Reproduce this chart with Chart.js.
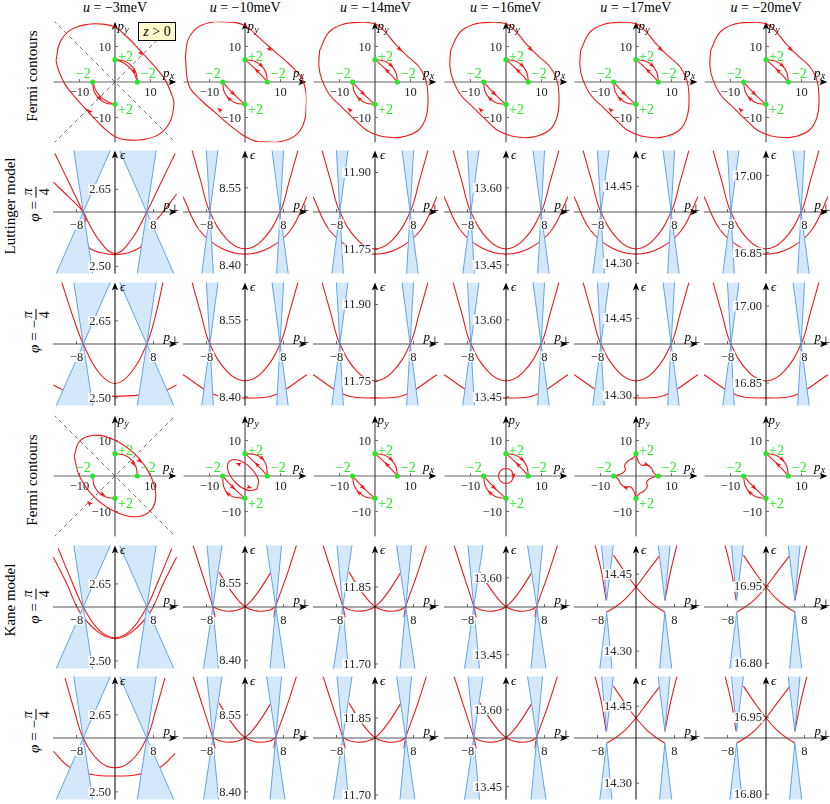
<!DOCTYPE html>
<html><head><meta charset="utf-8">
<script src="https://cdn.jsdelivr.net/npm/chart.js"></script>
<style>
html,body{margin:0;padding:0;background:#fff}
#fig{position:relative;width:830px;height:804px;overflow:hidden;font-family:"Liberation Serif","DejaVu Serif",serif;color:#000}
#fig canvas{position:absolute}
.hdr{position:absolute;top:0px;font-size:14px;line-height:16px;white-space:nowrap;transform:translateX(-50%)}
.rot{position:absolute;white-space:nowrap;font-size:15px;line-height:17px;transform:translate(-50%,-50%) rotate(-90deg)}
.zbox{position:absolute;left:138px;top:22px;width:38px;height:19px;background:#ffffcc;border:1px solid #000;box-sizing:border-box;font-size:14px;text-align:center;line-height:17px}
.frac{display:inline-flex;flex-direction:column;vertical-align:middle;text-align:center;font-size:14px;line-height:14px}
.frac span:first-child{border-bottom:1px solid #000;padding:0 2px 1px 2px}
.frac span:last-child{padding-top:1px}
</style></head><body><div id="fig">
<div class="rot" style="left:32px;top:76px">Fermi contours</div>
<div class="rot" style="left:10px;top:206px">Luttinger model</div>
<div class="rot" style="left:36px;top:204px"><i>φ</i> = <span class="frac"><span><i>π</i></span><span>4</span></span></div>
<div class="rot" style="left:36px;top:331px"><i>φ</i> = −<span class="frac"><span><i>π</i></span><span>4</span></span></div>
<div class="rot" style="left:32px;top:480px">Fermi contours</div>
<div class="rot" style="left:10px;top:600px">Kane model</div>
<div class="rot" style="left:36px;top:606px"><i>φ</i> = <span class="frac"><span><i>π</i></span><span>4</span></span></div>
<div class="rot" style="left:36px;top:731px"><i>φ</i> = −<span class="frac"><span><i>π</i></span><span>4</span></span></div>
</div>
<script>
// ================= DATA =================
const uValues = [-3, -10, -14, -16, -17, -20];
const weylNodes = [[0, 6.3, '+2'], [6.3, 0, '−2'], [0, -6.3, '+2'], [-6.3, 0, '−2']];
const fermiTicks = [-10, 10];
const dispTicksP = [-8, 8];
const lutTicksE  = [[2.65,2.50],[8.55,8.40],[11.90,11.75],[13.60,13.45],[14.45,14.30],[17.00,16.85]];
const kaneTicksE = [[2.65,2.50],[8.55,8.40],[11.85,11.70],[13.60,13.45],[14.45,14.30],[16.95,16.80]];
const lutPlusAxisE   = [2.606, 8.503, 11.823, 13.553, 14.400, 16.929];
const lutMinusAxisE  = [2.605, 8.503, 11.823, 13.553, 14.400, 16.926];
const kanePlusAxisE  = [2.605, 8.504, 11.811, 13.543, 14.386, 16.910];
const kaneMinusAxisE = [2.605, 8.505, 11.811, 13.545, 14.388, 16.910];

// Fermi-contour pieces (p_x, p_y)
const lensTR   = [[0,6.3],[2.6,5.9],[4.6,4.6],[5.9,2.6],[6.3,0]];
const lensTRin = [[0,6.3],[1.7,4.8],[3.3,3.3],[4.8,1.7],[6.3,0]];
const lensBL   = [[-6.3,0],[-5.9,-2.6],[-4.6,-4.6],[-2.6,-5.9],[0,-6.3]];
const lensBLin = [[-6.3,0],[-4.8,-1.7],[-3.3,-3.3],[-1.7,-4.8],[0,-6.3]];
const outerU3  = [[-16.6,6.0],[-15.6,11.0],[-12.6,14.6],[-8.0,16.2],[-3.5,16.3],[0,15.4],[3.5,12.6],[7.3,8.6],[10.8,4.8],[14.0,0.8],[16.0,-3.6],[16.6,-6.0],[15.6,-11.0],[12.6,-14.6],[8.0,-16.2],[3.5,-16.3],[0,-15.4],[-3.5,-12.6],[-7.3,-8.6],[-10.8,-4.8],[-14.0,-0.8],[-16.0,3.6],[-16.6,6.0]];
const outerU10 = [[-16.8,7.0],[-16.0,12.0],[-13.0,15.6],[-8.0,17.0],[-3.0,16.8],[0.5,15.6],[4.5,12.0],[8.5,8.5],[12.5,5.0],[16.0,1.0],[17.3,-4.0],[17.0,-10.0],[14.5,-14.8],[9.0,-17.0],[3.5,-16.8],[-0.5,-15.0],[-4.5,-12.0],[-8.5,-8.5],[-12.5,-5.0],[-15.8,-1.0],[-16.8,7.0]];
const outerU20 = [[-15.6,8.9],[-13.0,14.0],[-9.2,16.2],[-4.5,16.8],[0,16.4],[3.0,14.0],[5.6,10.8],[8.9,7.5],[12.2,4.5],[14.2,1.0],[14.9,-3.3],[14.5,-9.4],[12.2,-13.6],[7.0,-15.6],[1.5,-15.2],[-2.5,-13.5],[-5.5,-10.8],[-9.2,-7.2],[-12.8,-3.6],[-15.0,0.8],[-15.8,4.5],[-15.6,8.9]];
const lutFermi = [
  [outerU3, lensTR, [[0,6.3],[2.2,5.5],[4.1,4.1],[5.5,2.2],[6.3,0]], lensBL, [[-6.3,0],[-5.5,-2.2],[-4.1,-4.1],[-2.2,-5.5],[0,-6.3]]],
  [outerU10, lensTR, lensTRin, lensBL, lensBLin],
  [outerU20, lensTR, lensTRin, lensBL, lensBLin],
  [outerU20, lensTR, lensTRin, lensBL, lensBLin],
  [outerU20, lensTR, lensTRin, lensBL, lensBLin],
  [outerU20, lensTR, lensTRin, lensBL, lensBLin]
];
// arrow marks on the contours: [p_x, p_y, direction x, direction y]
const lutArrowsU3  = [[7.4,8.0,1,-1.1],[-7.3,-8.2,-1,1.1],[5.4,3.0,0.5,-1],[-4.3,-4.6,1,-0.9]];
const lutArrowsOut = [[7.0,9.2,1,-1],[-7.2,-7.8,-1,1],[4.6,4.6,1,-1],[3.3,3.3,-1,1],[-4.6,-4.6,-1,1],[-3.3,-3.3,1,-1]];
const lutArrows = [lutArrowsU3, lutArrowsOut, lutArrowsOut, lutArrowsOut, lutArrowsOut, lutArrowsOut];
const kaneFermi = [
  [[[-11.5,5.6],[-9.9,9.9],[-5.6,11.5],[0.1,10.0],[5.9,5.9],[10.0,0.1],[11.5,-5.6],[9.9,-9.9],[5.6,-11.5],[-0.1,-10.0],[-5.9,-5.9],[-10.0,-0.1],[-11.5,5.6]], lensTR, lensBL],
  [[[3.4,-3.7],[3.75,-1.05],[1.6,2.3],[-1.75,4.45],[-4.4,4.1],[-4.75,1.45],[-2.6,-1.9],[0.75,-4.05],[3.4,-3.7]],
   [[0,6.3],[3.0,6.0],[4.9,4.9],[6.0,3.0],[6.3,0]], lensTRin, [[-6.3,0],[-6.0,-3.0],[-4.9,-4.9],[-3.0,-6.0],[0,-6.3]], lensBLin],
  [lensTR, lensTRin, lensBL, lensBLin],
  [[[2.1,0],[1.5,1.5],[0,2.1],[-1.5,1.5],[-2.1,0],[-1.5,-1.5],[0,-2.1],[1.5,-1.5],[2.1,0]], lensTR, lensTRin, lensBL, lensBLin],
  [[[0,6.3],[0.7,4.0],[1.7,3.0],[3.0,3.2],[4.3,2.2],[5.0,0.9],[6.3,0]],
   [[6.3,0],[4.0,-0.7],[3.0,-1.7],[3.2,-3.0],[2.2,-4.3],[0.9,-5.0],[0,-6.3]],
   [[0,-6.3],[-0.7,-4.0],[-1.7,-3.0],[-3.0,-3.2],[-4.3,-2.2],[-5.0,-0.9],[-6.3,0]],
   [[-6.3,0],[-4.0,0.7],[-3.0,1.7],[-3.2,3.0],[-2.2,4.3],[-0.9,5.0],[0,6.3]]],
  [lensTR, lensTRin, lensBL, lensBLin]
];
const kaneArrows = [
  [[7.0,4.2,1,-1],[-7.3,-7.6,-1,1],[5.2,3.5,0.6,-1],[-3.4,-5.2,1,-0.6]],
  [[4.9,4.9,1,-1],[3.3,3.3,-1,1],[-4.9,-4.9,-1,1],[-3.3,-3.3,1,-1],[-1.9,3.4,-1,0.3],[1.3,-3.2,1,-0.3]],
  [[4.6,4.6,1,-1],[3.3,3.3,-1,1],[-4.6,-4.6,-1,1],[-3.3,-3.3,1,-1]],
  [[4.6,4.6,1,-1],[3.3,3.3,-1,1],[-4.6,-4.6,-1,1],[-3.3,-3.3,1,-1],[2.1,0,0,-1]],
  [[3.0,3.2,1,-0.4],[-3.0,-3.2,-1,0.4]],
  [[4.6,4.6,1,-1],[3.3,3.3,-1,1],[-4.6,-4.6,-1,1],[-3.3,-3.3,1,-1]]
];

// Dispersion curves: [p_perp, eps - eps_axis]
const lutA  = [[-11.0,0.12],[-9.2,0.06],[-7.3,0],[-3.6,-0.055],[0,-0.072],[3.6,-0.055],[7.3,0],[9.2,0.06],[11.0,0.12]];
const lutB  = [[-12.9,0.03],[-9.5,-0.035],[-5,-0.07],[0,-0.082],[5,-0.07],[9.5,-0.035],[12.9,0.03]];
const lutBm = [[-12.9,-0.06],[-6,-0.1],[0,-0.105],[6,-0.1],[12.9,-0.06]];
const lutCones = [[-7.3,0,0,-6,14],[7.3,0,0,-14,6]];
const lutPlusCurves = [
  [[[-12.5,0.114],[-9.5,0.056],[-6.6,0],[-3.3,-0.055],[0,-0.081],[3.3,-0.055],[6.6,0],[9.5,0.056],[12.5,0.114]],
   [[-12.8,0.058],[-9.7,0.03],[-6.6,0],[-6.0,-0.02]],
   [[-5.8,-0.06],[-5.2,-0.071],[-2.6,-0.080],[0,-0.083],[2.6,-0.080],[5.2,-0.069],[5.8,-0.06]],
   [[7.2,-0.04],[7.8,-0.026],[10,0.0],[12.8,0.035]]],
  [lutA, lutB], [lutA, lutB], [lutA, lutB], [lutA, lutB], [lutA, lutB]
];
const lutPlusCones = [[[-6.6,0,0,-16.4,46.9],[6.6,0,0,-46.9,16.4]], lutCones, lutCones, lutCones, lutCones, lutCones];
const lutMinusCurves = [
  [[[-11.1,0.121],[-8.8,0.055],[-6.6,0],[-3.3,-0.056],[0,-0.077],[3.3,-0.056],[6.6,0],[8.4,0.055],[10.0,0.121]],
   [[-12.8,-0.080],[-10.7,-0.090],[-8,-0.097],[-4.8,-0.100],[0,-0.102],[4.5,-0.100],[8,-0.097],[10.7,-0.090],[12.8,-0.080]]],
  [lutA, lutBm], [lutA, lutBm], [lutA, lutBm], [lutA, lutBm], [lutA, lutBm]
];
const lutMinusCones = [[[-6.6,0,0,-16.4,46.9],[6.6,0,0,-46.9,16.4]], lutCones, lutCones, lutCones, lutCones, lutCones];

const kaneMid = [
  [[-10.8,0.120],[-8.8,0.062],[-6.7,0.001],[-6.2,-0.02]],
  [[10.7,0.120],[8.7,0.062],[6.4,0.001],[6.0,-0.02]],
  [[-5.4,0.068],[-2.5,0.026],[0.1,0],[2.7,-0.008],[5.1,-0.006],[6.4,0.001]],
  [[5.4,0.068],[2.5,0.026],[-0.1,0],[-2.7,-0.008],[-5.1,-0.006],[-6.7,0.001]]
];
const kaneMidCones = [[-6.7,0,0,-10,16],[6.4,0,0,-16,10]];
const kaneGap = [
  [[-8.5,0.120],[-7.2,0.07],[-6.2,0.013]],
  [[-4.7,0.101],[-2.3,0.068],[0,0.039],[2.2,0.016],[4.3,0],[6.0,-0.010]],
  [[5.0,0.101],[2.3,0.068],[0,0.039],[-2.2,0.016],[-4.3,0],[-6.1,-0.010]],
  [[8.5,0.120],[7.2,0.07],[6.0,0.013]]
];
const kaneGapCones = [[-6.1,0.013,-0.010,-10,13],[6.0,0.013,-0.010,-13,10]];
const kanePlusCurves = [
  [[[-11.8,0.114],[-9.2,0.055],[-6.6,0],[-3.3,-0.045],[0,-0.060],[3.3,-0.045],[6.6,0],[9.2,0.055],[11.8,0.114]],
   [[-12.8,0.097],[-10,0.045],[-7.3,-0.01],[-3.6,-0.048],[0,-0.062],[3.6,-0.048],[7.3,-0.01],[10,0.045],[12.8,0.097]]],
  kaneMid, kaneMid, kaneMid, kaneGap, kaneGap
];
const kanePlusCones = [[[-6.6,0,0,-16.4,46.9],[6.6,0,0,-46.9,16.4]], kaneMidCones, kaneMidCones, kaneMidCones, kaneGapCones, kaneGapCones];
const kaneMinusCurves = [
  [[[-10.4,0.117],[-8.5,0.055],[-6.6,0],[-3.3,-0.045],[0,-0.058],[3.3,-0.045],[6.6,0],[8.5,0.055],[10.4,0.117]],
   [[-12.8,-0.026],[-9.4,-0.057],[-4.8,-0.071],[0,-0.074],[4.8,-0.071],[9.4,-0.057],[12.5,-0.030]]],
  kaneMid, kaneMid, kaneMid, kaneGap, kaneGap
];
const kaneMinusCones = [[[-6.6,0,0,-16.4,46.9],[6.6,0,0,-46.9,16.4]], kaneMidCones, kaneMidCones, kaneMidCones, kaneGapCones, kaneGapCones];

// ================= LAYOUT / STYLE =================
const COLX = [115, 245.2, 375.4, 505.6, 635.8, 766];
const ROWY = [81.7, 211.7, 344, 476, 606.7, 738];
const FS = 3.55, DX = 4.81, DE = 513.3;
const RED = 'rgb(240,25,25)', GREEN = 'rgb(40,230,40)';
const BLUE_FILL = 'rgb(212,232,250)', BLUE_LINE = 'rgb(95,165,238)';
const SERIF = '"Liberation Serif","DejaVu Serif",serif';
const fig = document.getElementById('fig');

uValues.forEach((u, i) => {
  const d = document.createElement('div');
  d.className = 'hdr'; d.style.left = COLX[i] + 'px';
  d.innerHTML = '<i>u</i> = ' + (u < 0 ? '−' : '') + Math.abs(u) + 'meV';
  fig.appendChild(d);
});

function makeCanvas(cx, cy) {
  const c = document.createElement('canvas');
  c.width = 130; c.height = 132;
  c.style.left = (cx - 65) + 'px'; c.style.top = (cy - 66) + 'px';
  fig.appendChild(c); return c;
}
function baseOptions(xmin, xmax, ymin, ymax, hw, hh) {
  return {
    responsive: false, animation: false, devicePixelRatio: 1, events: [],
    layout: { padding: { left: 65 - hw, right: 65 - hw, top: 66 - hh, bottom: 66 - hh } },
    plugins: { legend: { display: false }, tooltip: { enabled: false } },
    scales: { x: { type: 'linear', min: xmin, max: xmax, display: false },
              y: { type: 'linear', min: ymin, max: ymax, display: false } },
    elements: { point: { radius: 0 } }
  };
}
function arrowHead(ctx, x, y, dir) {
  ctx.fillStyle = '#000'; ctx.beginPath();
  if (dir === 'r') { ctx.moveTo(x, y); ctx.lineTo(x - 8, y - 3.2); ctx.lineTo(x - 6, y); ctx.lineTo(x - 8, y + 3.2); }
  else { ctx.moveTo(x, y); ctx.lineTo(x - 3.2, y + 8); ctx.lineTo(x, y + 6); ctx.lineTo(x + 3.2, y + 8); }
  ctx.closePath(); ctx.fill();
}
function seg(ctx, x1, y1, x2, y2, color, w) {
  ctx.strokeStyle = color; ctx.lineWidth = w; ctx.beginPath(); ctx.moveTo(x1, y1); ctx.lineTo(x2, y2); ctx.stroke();
}
function labelBox(ctx, txt, x, y, align, size) {
  ctx.font = size + 'px ' + SERIF; ctx.textAlign = 'left'; ctx.textBaseline = 'alphabetic';
  const w = ctx.measureText(txt).width;
  const lx = align === 'right' ? x - w : align === 'center' ? x - w / 2 : x;
  ctx.fillStyle = '#fff'; ctx.fillRect(lx - 1, y - size * 0.72, w + 2, size * 0.82);
  ctx.fillStyle = '#262626'; ctx.fillText(txt, lx, y);
}
function italicSub(ctx, base, sub, x, y, size, subItalic) {
  ctx.fillStyle = '#000'; ctx.textAlign = 'left'; ctx.textBaseline = 'alphabetic';
  ctx.font = 'italic ' + size + 'px ' + SERIF; ctx.fillText(base, x, y);
  const w = ctx.measureText(base).width;
  ctx.font = (subItalic ? 'italic ' : '') + (size * 0.72) + 'px ' + SERIF;
  ctx.fillText(sub, x + w + 0.5, y + size * 0.22);
}
function pts(c, e0) { return c.map(p => ({ x: p[0], y: p[1] + (e0 || 0) })); }

function fermiPanel(col, row, curves, arrows, dashed) {
  const cv = makeCanvas(COLX[col], ROWY[row]);
  const ds = curves.map(c => ({ data: pts(c), borderColor: RED, borderWidth: 1.1, tension: 0.4, pointRadius: 0, fill: false }));
  if (dashed) {
    ds.push({ data: pts([[-17.3, 17.3], [17.3, -17.3]]), borderColor: '#333', borderWidth: 0.7, borderDash: [4, 3.5], tension: 0, pointRadius: 0, fill: false });
    ds.push({ data: pts([[-17.3, -17.3], [17.3, 17.3]]), borderColor: '#333', borderWidth: 0.7, borderDash: [4, 3.5], tension: 0, pointRadius: 0, fill: false });
  }
  const plugin = {
    id: 'fermi',
    beforeDatasetsDraw(chart) {
      const { ctx, chartArea: ca, scales: { x: xs, y: ys } } = chart;
      const x0 = xs.getPixelForValue(0), y0 = ys.getPixelForValue(0);
      ctx.save();
      seg(ctx, ca.left, y0, ca.right - 5, y0, '#999', 1.3);
      arrowHead(ctx, ca.right, y0, 'r');
      seg(ctx, x0, ca.bottom, x0, ca.top + 5, '#333', 1);
      arrowHead(ctx, x0, ca.top, 'u');
      fermiTicks.forEach(t => {
        const px = xs.getPixelForValue(t), py = ys.getPixelForValue(t);
        seg(ctx, px, y0 - 3, px, y0, '#555', 0.8);
        seg(ctx, x0, py, x0 + 3, py, '#555', 0.8);
        const s = (t < 0 ? '−' : '') + Math.abs(t);
        labelBox(ctx, s, px, y0 + 14, 'center', 12.5);
        labelBox(ctx, s, x0 - 4, py + 4, 'right', 12.5);
      });
      ctx.restore();
    },
    afterDatasetsDraw(chart) {
      const { ctx, chartArea: ca, scales: { x: xs, y: ys } } = chart;
      const x0 = xs.getPixelForValue(0), y0 = ys.getPixelForValue(0);
      ctx.save();
      (arrows || []).forEach(([ax, ay, dx, dy]) => {
        const px = xs.getPixelForValue(ax), py = ys.getPixelForValue(ay);
        const ang = Math.atan2(-dy, dx);
        ctx.save(); ctx.translate(px, py); ctx.rotate(ang);
        ctx.fillStyle = RED; ctx.beginPath(); ctx.moveTo(3, 0); ctx.lineTo(-3, -2.2); ctx.lineTo(-1.8, 0); ctx.lineTo(-3, 2.2); ctx.closePath(); ctx.fill();
        ctx.restore();
      });
      italicSub(ctx, 'p', 'y', x0 + 2.5, ca.top + 8, 13, true);
      italicSub(ctx, 'p', 'x', ca.right - 13.5, y0 - 5.5, 13, true);
      weylNodes.forEach(([nx, ny, lab]) => {
        const px = xs.getPixelForValue(nx), py = ys.getPixelForValue(ny);
        ctx.fillStyle = GREEN; ctx.beginPath(); ctx.arc(px, py, 2.6, 0, Math.PI * 2); ctx.fill();
        ctx.font = '14px ' + SERIF; ctx.textBaseline = 'alphabetic';
        if (nx === 0 && ny > 0) { ctx.textAlign = 'left'; ctx.fillText(lab, px + 3, py + 1); }
        else if (nx === 0) { ctx.textAlign = 'left'; ctx.fillText(lab, px + 3, py + 10); }
        else if (nx < 0) { ctx.textAlign = 'right'; ctx.fillText(lab, px - 2, py - 4.5); }
        else { ctx.textAlign = 'left'; ctx.fillText(lab, px + 3.5, py - 4.5); }
      });
      ctx.restore();
    }
  };
  new Chart(cv, { type: 'line', data: { datasets: ds }, options: baseOptions(-17.3, 17.3, -17, 17, 17.3 * FS, 17 * FS), plugins: [plugin] });
}

function dispPanel(col, row, E0, ticks, curves, cones) {
  const cv = makeCanvas(COLX[col], ROWY[row]);
  const ds = [];
  const H = 0.4;
  cones.forEach(([a, eT, eB, vA, vB]) => {
    ds.push({ data: [{ x: a + vA * H, y: E0 + eT + H }, { x: a, y: E0 + eT }, { x: a + vB * H, y: E0 + eT + H }],
      fill: 'shape', backgroundColor: BLUE_FILL, borderColor: BLUE_LINE, borderWidth: 1, tension: 0, pointRadius: 0, order: 0 });
    ds.push({ data: [{ x: a - vB * H, y: E0 + eB - H }, { x: a, y: E0 + eB }, { x: a - vA * H, y: E0 + eB - H }],
      fill: 'shape', backgroundColor: BLUE_FILL, borderColor: BLUE_LINE, borderWidth: 1, tension: 0, pointRadius: 0, order: 0 });
  });
  curves.forEach(c => ds.push({ data: pts(c, E0), borderColor: RED, borderWidth: 1.1, tension: 0.4, pointRadius: 0, fill: false, order: 1 }));
  const plugin = {
    id: 'disp',
    afterDatasetsDraw(chart) {
      const { ctx, chartArea: ca, scales: { x: xs, y: ys } } = chart;
      const x0 = xs.getPixelForValue(0), y0 = ys.getPixelForValue(E0);
      ctx.save();
      seg(ctx, ca.left, y0, ca.right - 5, y0, '#555', 1.2);
      arrowHead(ctx, ca.right, y0, 'r');
      seg(ctx, x0, ca.bottom, x0, ca.top + 5, '#000', 1);
      arrowHead(ctx, x0, ca.top, 'u');
      dispTicksP.forEach(t => {
        const px = xs.getPixelForValue(t);
        seg(ctx, px, y0 - 3, px, y0, '#444', 0.8);
        labelBox(ctx, (t < 0 ? '−' : '') + Math.abs(t), px, y0 + 16.5, 'center', 12.5);
      });
      ticks.forEach(t => {
        const py = ys.getPixelForValue(t);
        seg(ctx, x0, py, x0 + 3, py, '#444', 0.8);
        labelBox(ctx, t.toFixed(2), x0 - 4, py + 4, 'right', 12.5);
      });
      italicSub(ctx, 'p', '⊥', ca.right - 13.5, y0 - 3.5, 13, false);
      ctx.fillStyle = '#000'; ctx.font = 'italic 13px ' + SERIF; ctx.textAlign = 'left';
      ctx.fillText('ϵ', x0 + 5, ca.top + 9);
      ctx.restore();
    }
  };
  new Chart(cv, { type: 'line', data: { datasets: ds }, options: baseOptions(-12.9, 12.9, E0 - 0.12, E0 + 0.12, 12.9 * DX, 0.12 * DE), plugins: [plugin] });
}

for (let c = 0; c < 6; c++) {
  fermiPanel(c, 0, lutFermi[c], lutArrows[c], c === 0);
  dispPanel(c, 1, lutPlusAxisE[c], lutTicksE[c], lutPlusCurves[c], lutPlusCones[c]);
  dispPanel(c, 2, lutMinusAxisE[c], lutTicksE[c], lutMinusCurves[c], lutMinusCones[c]);
  fermiPanel(c, 3, kaneFermi[c], kaneArrows[c], c === 0);
  dispPanel(c, 4, kanePlusAxisE[c], kaneTicksE[c], kanePlusCurves[c], kanePlusCones[c]);
  dispPanel(c, 5, kaneMinusAxisE[c], kaneTicksE[c], kaneMinusCurves[c], kaneMinusCones[c]);
}
const zb = document.createElement('div');
zb.className = 'zbox'; zb.innerHTML = '<i>z</i> &gt; 0';
fig.appendChild(zb);
</script></body></html>
